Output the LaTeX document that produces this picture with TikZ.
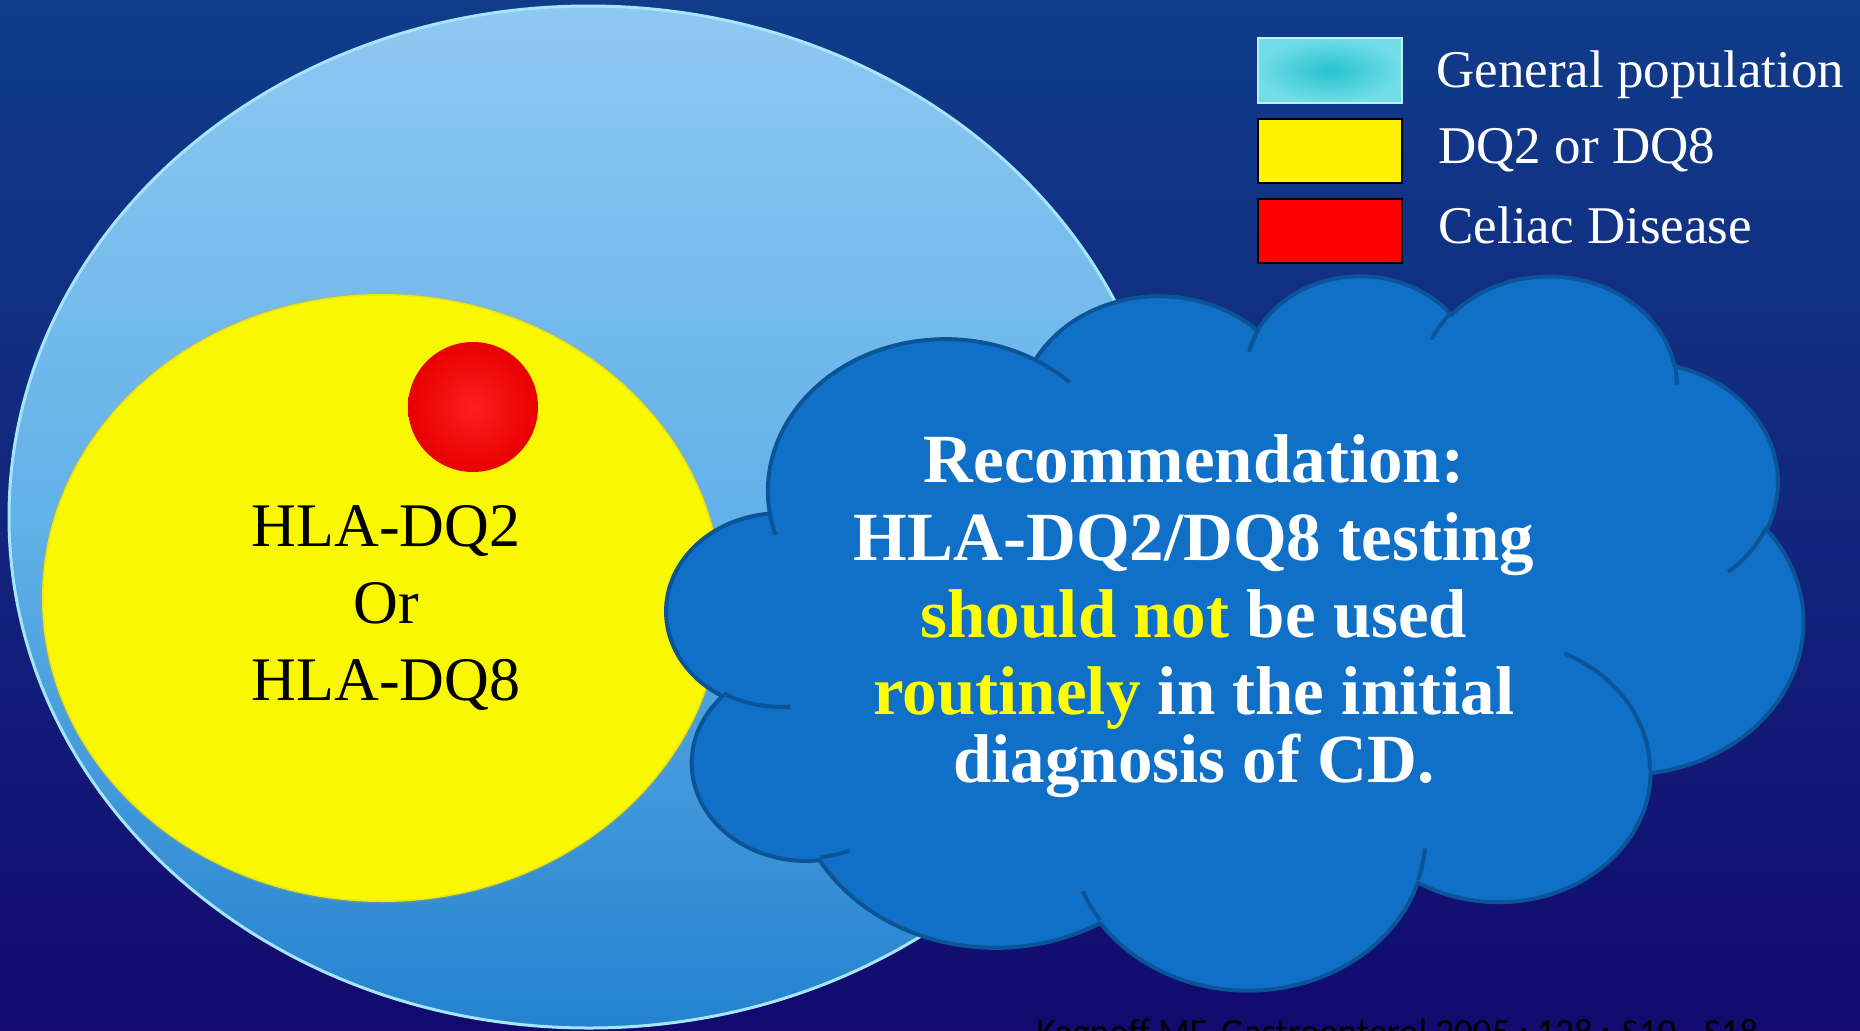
\documentclass[tikz,border=0pt]{standalone}
\usepackage{fontspec}
\setmainfont{Liberation Serif}
\newfontfamily\citefont{Carlito}
\definecolor{bgtop}{HTML}{103C8A}
\definecolor{bgmid}{HTML}{12267E}
\definecolor{bgbot}{HTML}{120A6E}
\definecolor{gptop}{HTML}{8FC8F2}
\definecolor{gpmid}{HTML}{62B1E8}
\definecolor{gpbot}{HTML}{2482CF}
\definecolor{gprim}{HTML}{A4E6FA}
\definecolor{dqyel}{HTML}{FAF800}
\definecolor{cloudfill}{HTML}{1070C8}
\definecolor{cloudline}{HTML}{0B5498}
\definecolor{hl}{HTML}{FFFF00}
\definecolor{cyin}{HTML}{26C3D0}
\definecolor{cyout}{HTML}{72DDE8}
\definecolor{cyrim}{HTML}{B8F2F8}
% parametric angles for DrawingML-style elliptical arcs (visual angles)
\newcommand\cloudpar[5]{%
  \pgfmathsetmacro\cldTmpS{atan2((#2)*sin(#4),(#3)*cos(#4))}%
  \pgfmathsetmacro\cldTmpE{atan2((#2)*sin((#4)+(#5)),(#3)*cos((#4)+(#5)))}%
  \pgfmathsetmacro\cldTmpD{(\cldTmpE)-(\cldTmpS)}%
  \ifdim\cldTmpD pt<0pt \pgfmathsetmacro\cldTmpD{(\cldTmpD)+360}\fi
  \pgfmathsetmacro\cldTmpE{(\cldTmpS)+(\cldTmpD)}%
  \expandafter\xdef\csname cp#1s\endcsname{\cldTmpS}%
  \expandafter\xdef\csname cp#1e\endcsname{\cldTmpE}%
}
\cloudpar{A}{6.753}{9.190}{-190.4875}{123.7805}
\cloudpar{B}{5.333}{7.267}{-144.1024}{89.9452}
\cloudpar{C}{4.365}{5.945}{-145.8079}{99.7230}
\cloudpar{D}{4.857}{6.595}{-130.9861}{117.2417}
\cloudpar{E}{5.333}{7.273}{-78.7089}{109.0269}
\cloudpar{F}{6.775}{9.220}{-46.2673}{130.2690}
\cloudpar{G}{5.785}{7.867}{0.6250}{114.0333}
\cloudpar{H}{6.752}{9.215}{22.4516}{115.1726}
\cloudpar{I}{7.720}{10.543}{66.2426}{75.7110}
\cloudpar{J}{4.360}{5.918}{-274.9421}{146.7356}
\cloudpar{K}{4.345}{5.945}{-246.8285}{152.5189}
\cloudpar{P}{4.345}{5.945}{86.7420}{26.4295}
\cloudpar{Q}{4.360}{5.918}{73.6105}{11.4475}
\cloudpar{R}{6.752}{9.215}{137.6242}{14.0811}
\cloudpar{S}{6.752}{9.215}{6.4533}{15.9984}
\cloudpar{T}{5.785}{7.867}{-70.2924}{70.9174}
\cloudpar{U}{5.333}{7.273}{30.3180}{27.7515}
\cloudpar{V}{4.857}{6.595}{-13.7443}{14.8589}
\cloudpar{W}{4.857}{6.595}{-149.1815}{18.1954}
\cloudpar{X}{4.365}{5.945}{-163.4943}{17.6864}
\cloudpar{Y}{6.753}{9.190}{-66.7070}{12.3194}
\cloudpar{Z}{6.753}{9.190}{157.6544}{11.8582}
\begin{document}
\begin{tikzpicture}[x=0.5pt,y=-0.5pt,
  ylabel/.style={anchor=base, inner sep=0pt, text=black, font=\fontsize{31}{37}\selectfont},
  legtext/.style={anchor=base west, inner sep=0pt, text=white, font=\fontsize{26.5}{32}\selectfont},
  ctext/.style={anchor=base, inner sep=0pt, text=white, font=\fontsize{34.5}{40}\selectfont\bfseries},
  cloudbody/.style={fill=cloudfill, draw=cloudline, line width=2pt, line join=round},
  cloudinner/.style={draw=cloudline, line width=2pt, line cap=butt},
  legbox/.style={draw=black, line width=1pt}]
\useasboundingbox (0,0) rectangle (1860,1030);
\clip (0,0) rectangle (1860,1030);
% background
\shade[top color=bgtop, bottom color=bgbot, middle color=bgmid] (0,0) rectangle (1860,1030);
% general population
\shade[top color=gptop, bottom color=gpbot, middle color=gpmid] (589,517) ellipse[x radius=580, y radius=511];
\draw[gprim, line width=1.5pt] (589,517) ellipse[x radius=580, y radius=511];
% DQ2 / DQ8
\fill[dqyel] (382,598) ellipse[x radius=340, y radius=304];
\draw[yellow!70!black, opacity=0.25, line width=1.5pt] (382,598) ellipse[x radius=340, y radius=304];
% celiac disease
\shade[inner color={rgb,255:red,255;green,30;blue,30}, outer color={rgb,255:red,232;green,0;blue,0}] (473,407) circle[radius=65];
\node[ylabel] (y1) at (386,546) {HLA-DQ2};
\node[ylabel] (y2) at (386,623) {Or};
\node[ylabel] (y3) at (386,700) {HLA-DQ8};
% cloud
\begin{scope}[shift={(667,274)}, x=13.148pt, y=-8.264pt]
\path[cloudbody] (3.900,14.370)
  arc[x radius=6.753, y radius=9.190, start angle=\cpAs, end angle=\cpAe]
  arc[x radius=5.333, y radius=7.267, start angle=\cpBs, end angle=\cpBe]
  arc[x radius=4.365, y radius=5.945, start angle=\cpCs, end angle=\cpCe]
  arc[x radius=4.857, y radius=6.595, start angle=\cpDs, end angle=\cpDe]
  arc[x radius=5.333, y radius=7.273, start angle=\cpEs, end angle=\cpEe]
  arc[x radius=6.775, y radius=9.220, start angle=\cpFs, end angle=\cpFe]
  arc[x radius=5.785, y radius=7.867, start angle=\cpGs, end angle=\cpGe]
  arc[x radius=6.752, y radius=9.215, start angle=\cpHs, end angle=\cpHe]
  arc[x radius=7.720, y radius=10.543, start angle=\cpIs, end angle=\cpIe]
  arc[x radius=4.360, y radius=5.918, start angle=\cpJs, end angle=\cpJe]
  arc[x radius=4.345, y radius=5.945, start angle=\cpKs, end angle=\cpKe]
  -- cycle;
\draw[cloudinner] (4.693,26.177) arc[x radius=4.345, y radius=5.945, start angle=\cpPs, end angle=\cpPe];
\draw[cloudinner] (6.928,34.899) arc[x radius=4.360, y radius=5.918, start angle=\cpQs, end angle=\cpQe];
\draw[cloudinner] (16.478,39.090) arc[x radius=6.752, y radius=9.215, start angle=\cpRs, end angle=\cpRe];
\draw[cloudinner] (28.827,34.751) arc[x radius=6.752, y radius=9.215, start angle=\cpSs, end angle=\cpSe];
\draw[cloudinner] (34.129,22.954) arc[x radius=5.785, y radius=7.867, start angle=\cpTs, end angle=\cpTe];
\draw[cloudinner] (41.798,15.354) arc[x radius=5.333, y radius=7.273, start angle=\cpUs, end angle=\cpUe];
\draw[cloudinner] (38.324,5.426) arc[x radius=4.857, y radius=6.595, start angle=\cpVs, end angle=\cpVe];
\draw[cloudinner] (29.078,3.952) arc[x radius=4.857, y radius=6.595, start angle=\cpWs, end angle=\cpWe];
\draw[cloudinner] (22.141,4.720) arc[x radius=4.365, y radius=5.945, start angle=\cpXs, end angle=\cpXe];
\draw[cloudinner] (14.000,5.192) arc[x radius=6.753, y radius=9.190, start angle=\cpYs, end angle=\cpYe];
\draw[cloudinner] (4.127,15.789) arc[x radius=6.753, y radius=9.190, start angle=\cpZs, end angle=\cpZe];
\end{scope}
\node[ctext] (c1) at (1194,482) {Recommendation:};
\node[ctext] (c2) at (1194,560) {HLA-DQ2/DQ8 testing};
\node[ctext] (c3) at (1194,637) {\textcolor{hl}{should not} be used};
\node[ctext] (c4) at (1194,714) {\textcolor{hl}{routinely} in the initial};
\node[ctext] (c5) at (1194,782) {diagnosis of CD.};
% legend
\shade[inner color=cyin, outer color=cyout] (1258,38) rectangle (1402,103);
\draw[cyrim, line width=1pt] (1258,38) rectangle (1402,103);
\filldraw[legbox, fill=yellow] (1258,119) rectangle (1402,183);
\filldraw[legbox, fill=red] (1258,199) rectangle (1402,263);
\node[legtext] (l1) at (1436,87) {General population};
\node[legtext] (l2) at (1438,163) {DQ2 or DQ8};
\node[legtext] (l3) at (1438,243) {Celiac Disease};
% citation (cut by the lower edge, as in the reference)
\node[anchor=base west, inner sep=0pt, text=black, font=\citefont\fontsize{18.4}{22}\selectfont] (cite) at (1036,1044) {Kagnoff MF. Gastroenterol 2005 ; 128 : S10 - S18};
\end{tikzpicture}
\end{document}
